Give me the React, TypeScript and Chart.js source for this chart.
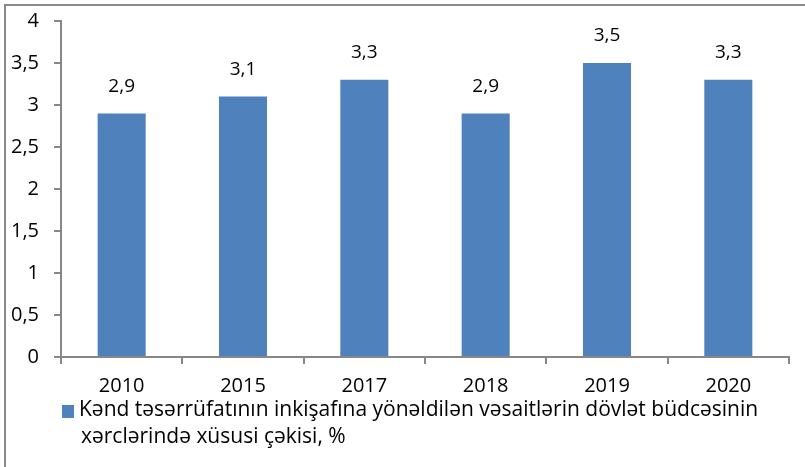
import React, { useEffect, useRef } from "react";
import { Chart, registerables } from "chart.js";

Chart.register(...registerables);

const categories = ["2010", "2015", "2017", "2018", "2019", "2020"];
const values = [2.9, 3.1, 3.3, 2.9, 3.5, 3.3];
const seriesLabelLines = [
  "Kənd təsərrüfatının inkişafına yönəldilən vəsaitlərin dövlət büdcəsinin",
  "xərclərində xüsusi çəkisi, %",
];
const yTicks = [0, 0.5, 1, 1.5, 2, 2.5, 3, 3.5, 4];

const FONT = "'Open Sans', 'Noto Sans', sans-serif";
const BAR_COLOR = "#4F81BD";
const AXIS_COLOR = "#878787";

const fmt = (v: number) => String(v).replace(".", ",");

const App = () => {
  const ref = useRef<HTMLCanvasElement | null>(null);

  useEffect(() => {
    if (!ref.current) return;

    const frame = {
      id: "frame",
      beforeDraw(chart: any) {
        const c = chart.ctx;
        c.save();
        c.fillStyle = "#fff";
        c.fillRect(0, 0, chart.width, chart.height);
        c.strokeStyle = "#8a8a8a";
        c.lineWidth = 2;
        c.strokeRect(5, 5, chart.width + 20, chart.height + 20);
        c.restore();
      },
    };

    const dataLabels = {
      id: "dataLabels",
      afterDatasetsDraw(chart: any) {
        const c = chart.ctx;
        c.save();
        c.font = `19px ${FONT}`;
        c.fillStyle = "#000";
        c.textAlign = "center";
        c.textBaseline = "middle";
        chart.getDatasetMeta(0).data.forEach((bar: any, i: number) => {
          c.fillText(fmt(values[i]), bar.x, bar.y - 27);
        });
        c.restore();
      },
    };

    const legendPlugin = {
      id: "customLegend",
      afterDraw(chart: any) {
        const c = chart.ctx;
        const ds = chart.data.datasets[0];
        c.save();
        c.fillStyle = ds.backgroundColor;
        c.fillRect(62, 405, 12, 13);
        c.font = `21px ${FONT}`;
        c.fillStyle = "#000";
        c.textAlign = "left";
        c.textBaseline = "middle";
        c.fillText(seriesLabelLines[0], 79, 410);
        c.fillText(seriesLabelLines[1], 81, 437);
        c.restore();
      },
    };

    const chart = new Chart(ref.current, {
      type: "bar",
      data: {
        labels: categories,
        datasets: [
          {
            label: seriesLabelLines.join(" "),
            data: values,
            backgroundColor: BAR_COLOR,
            categoryPercentage: 1,
            barPercentage: 0.396,
          },
        ],
      },
      options: {
        animation: false,
        responsive: false,
        maintainAspectRatio: false,
        layout: { padding: { left: 0, right: 16, top: 21, bottom: 60 } },
        plugins: {
          legend: { display: false },
          tooltip: { enabled: false },
        },
        scales: {
          x: {
            grid: {
              display: true,
              drawOnChartArea: false,
              drawTicks: true,
              tickLength: 7,
              color: AXIS_COLOR,
              lineWidth: 2,
              offset: true,
            },
            border: { display: true, color: AXIS_COLOR, width: 2 },
            ticks: {
              color: "#000",
              font: { family: FONT, size: 20 },
              padding: 10,
            },
            afterFit(scale: any) {
              scale.height = 50;
            },
          },
          y: {
            min: 0,
            max: 4,
            afterBuildTicks(scale: any) {
              scale.ticks = yTicks.map((v) => ({ value: v }));
            },
            grid: {
              display: true,
              drawOnChartArea: false,
              drawTicks: true,
              tickLength: 7,
              color: AXIS_COLOR,
              lineWidth: 2,
            },
            border: { display: true, color: AXIS_COLOR, width: 2 },
            ticks: {
              color: "#000",
              font: { family: FONT, size: 20 },
              padding: 15,
              callback: (v: any) => fmt(Number(v)),
            },
            afterFit(scale: any) {
              scale.width = 61;
              scale.paddingTop = 10;
              scale.paddingBottom = 10;
            },
          },
        },
      },
      plugins: [frame, dataLabels, legendPlugin],
    });

    return () => chart.destroy();
  }, []);

  return (
    <div style={{ position: "fixed", left: 0, top: 0, width: 805, height: 467 }}>
      <canvas ref={ref} width={805} height={467} style={{ width: 805, height: 467, display: "block" }} />
    </div>
  );
};

export default App;
